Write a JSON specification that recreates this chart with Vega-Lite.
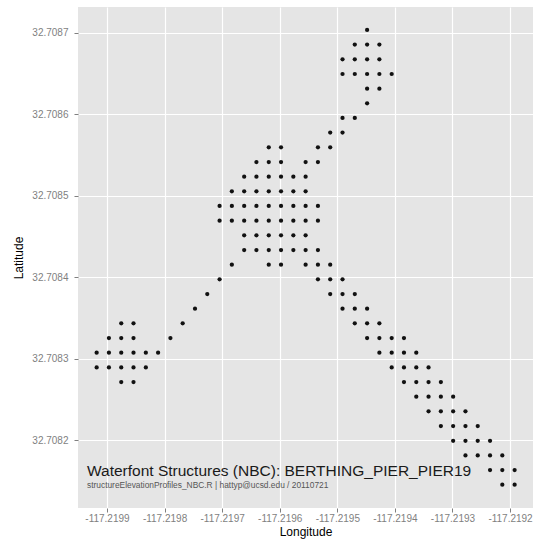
{
  "$schema": "https://vega.github.io/schema/vega-lite/v6.json",
  "width": 455,
  "height": 501,
  "autosize": {"type": "none"},
  "padding": {"left": 78, "top": 7, "right": 5, "bottom": 37},
  "background": "white",
  "config": {"view": {"fill": "#E5E5E5", "stroke": null}, "font": "Liberation Sans"},
  "datasets": {
    "pts": [
      {"lon": -117.2194482, "lat": 32.7087037},
      {"lon": -117.2194696, "lat": 32.7086857}, {"lon": -117.2194482, "lat": 32.7086857}, {"lon": -117.2194269, "lat": 32.7086857},
      {"lon": -117.2194909, "lat": 32.7086677}, {"lon": -117.2194696, "lat": 32.7086677}, {"lon": -117.2194482, "lat": 32.7086677}, {"lon": -117.2194269, "lat": 32.7086677},
      {"lon": -117.2194909, "lat": 32.7086496}, {"lon": -117.2194696, "lat": 32.7086496}, {"lon": -117.2194482, "lat": 32.7086496}, {"lon": -117.2194269, "lat": 32.7086496}, {"lon": -117.2194055, "lat": 32.7086496},
      {"lon": -117.2194482, "lat": 32.7086316}, {"lon": -117.2194269, "lat": 32.7086316},
      {"lon": -117.2194482, "lat": 32.7086136},
      {"lon": -117.2194909, "lat": 32.7085956}, {"lon": -117.2194696, "lat": 32.7085956},
      {"lon": -117.2195123, "lat": 32.7085776}, {"lon": -117.2194909, "lat": 32.7085776},
      {"lon": -117.2196190, "lat": 32.7085595}, {"lon": -117.2195977, "lat": 32.7085595}, {"lon": -117.2195336, "lat": 32.7085595}, {"lon": -117.2195123, "lat": 32.7085595},
      {"lon": -117.2196404, "lat": 32.7085415}, {"lon": -117.2196190, "lat": 32.7085415}, {"lon": -117.2195977, "lat": 32.7085415}, {"lon": -117.2195550, "lat": 32.7085415}, {"lon": -117.2195336, "lat": 32.7085415},
      {"lon": -117.2196617, "lat": 32.7085235}, {"lon": -117.2196404, "lat": 32.7085235}, {"lon": -117.2196190, "lat": 32.7085235}, {"lon": -117.2195977, "lat": 32.7085235}, {"lon": -117.2195763, "lat": 32.7085235}, {"lon": -117.2195550, "lat": 32.7085235},
      {"lon": -117.2196831, "lat": 32.7085055}, {"lon": -117.2196617, "lat": 32.7085055}, {"lon": -117.2196404, "lat": 32.7085055}, {"lon": -117.2196190, "lat": 32.7085055}, {"lon": -117.2195977, "lat": 32.7085055}, {"lon": -117.2195763, "lat": 32.7085055}, {"lon": -117.2195550, "lat": 32.7085055},
      {"lon": -117.2197044, "lat": 32.7084875}, {"lon": -117.2196831, "lat": 32.7084875}, {"lon": -117.2196617, "lat": 32.7084875}, {"lon": -117.2196404, "lat": 32.7084875}, {"lon": -117.2196190, "lat": 32.7084875}, {"lon": -117.2195977, "lat": 32.7084875}, {"lon": -117.2195763, "lat": 32.7084875}, {"lon": -117.2195550, "lat": 32.7084875}, {"lon": -117.2195336, "lat": 32.7084875},
      {"lon": -117.2197044, "lat": 32.7084694}, {"lon": -117.2196831, "lat": 32.7084694}, {"lon": -117.2196617, "lat": 32.7084694}, {"lon": -117.2196404, "lat": 32.7084694}, {"lon": -117.2196190, "lat": 32.7084694}, {"lon": -117.2195977, "lat": 32.7084694}, {"lon": -117.2195763, "lat": 32.7084694}, {"lon": -117.2195550, "lat": 32.7084694}, {"lon": -117.2195336, "lat": 32.7084694},
      {"lon": -117.2196617, "lat": 32.7084514}, {"lon": -117.2196404, "lat": 32.7084514}, {"lon": -117.2196190, "lat": 32.7084514}, {"lon": -117.2195977, "lat": 32.7084514}, {"lon": -117.2195763, "lat": 32.7084514}, {"lon": -117.2195550, "lat": 32.7084514},
      {"lon": -117.2196617, "lat": 32.7084334}, {"lon": -117.2196404, "lat": 32.7084334}, {"lon": -117.2196190, "lat": 32.7084334}, {"lon": -117.2195977, "lat": 32.7084334}, {"lon": -117.2195763, "lat": 32.7084334}, {"lon": -117.2195550, "lat": 32.7084334}, {"lon": -117.2195336, "lat": 32.7084334},
      {"lon": -117.2196831, "lat": 32.7084154}, {"lon": -117.2196190, "lat": 32.7084154}, {"lon": -117.2195977, "lat": 32.7084154}, {"lon": -117.2195550, "lat": 32.7084154}, {"lon": -117.2195336, "lat": 32.7084154}, {"lon": -117.2195123, "lat": 32.7084154},
      {"lon": -117.2197044, "lat": 32.7083974}, {"lon": -117.2195336, "lat": 32.7083974}, {"lon": -117.2195123, "lat": 32.7083974}, {"lon": -117.2194909, "lat": 32.7083974},
      {"lon": -117.2197258, "lat": 32.7083793}, {"lon": -117.2195123, "lat": 32.7083793}, {"lon": -117.2194909, "lat": 32.7083793}, {"lon": -117.2194696, "lat": 32.7083793},
      {"lon": -117.2197471, "lat": 32.7083613}, {"lon": -117.2194909, "lat": 32.7083613}, {"lon": -117.2194696, "lat": 32.7083613}, {"lon": -117.2194482, "lat": 32.7083613},
      {"lon": -117.2198752, "lat": 32.7083433}, {"lon": -117.2198539, "lat": 32.7083433}, {"lon": -117.2197685, "lat": 32.7083433}, {"lon": -117.2194696, "lat": 32.7083433}, {"lon": -117.2194482, "lat": 32.7083433}, {"lon": -117.2194269, "lat": 32.7083433},
      {"lon": -117.2198966, "lat": 32.7083253}, {"lon": -117.2198752, "lat": 32.7083253}, {"lon": -117.2198539, "lat": 32.7083253}, {"lon": -117.2197898, "lat": 32.7083253}, {"lon": -117.2194482, "lat": 32.7083253}, {"lon": -117.2194269, "lat": 32.7083253}, {"lon": -117.2194055, "lat": 32.7083253}, {"lon": -117.2193842, "lat": 32.7083253},
      {"lon": -117.2199179, "lat": 32.7083073}, {"lon": -117.2198966, "lat": 32.7083073}, {"lon": -117.2198752, "lat": 32.7083073}, {"lon": -117.2198539, "lat": 32.7083073}, {"lon": -117.2198325, "lat": 32.7083073}, {"lon": -117.2198112, "lat": 32.7083073}, {"lon": -117.2194269, "lat": 32.7083073}, {"lon": -117.2194055, "lat": 32.7083073}, {"lon": -117.2193842, "lat": 32.7083073}, {"lon": -117.2193628, "lat": 32.7083073},
      {"lon": -117.2199179, "lat": 32.7082892}, {"lon": -117.2198966, "lat": 32.7082892}, {"lon": -117.2198752, "lat": 32.7082892}, {"lon": -117.2198539, "lat": 32.7082892}, {"lon": -117.2198325, "lat": 32.7082892}, {"lon": -117.2194055, "lat": 32.7082892}, {"lon": -117.2193842, "lat": 32.7082892}, {"lon": -117.2193628, "lat": 32.7082892}, {"lon": -117.2193415, "lat": 32.7082892},
      {"lon": -117.2198752, "lat": 32.7082712}, {"lon": -117.2198539, "lat": 32.7082712}, {"lon": -117.2193842, "lat": 32.7082712}, {"lon": -117.2193628, "lat": 32.7082712}, {"lon": -117.2193415, "lat": 32.7082712}, {"lon": -117.2193201, "lat": 32.7082712},
      {"lon": -117.2193628, "lat": 32.7082532}, {"lon": -117.2193415, "lat": 32.7082532}, {"lon": -117.2193201, "lat": 32.7082532}, {"lon": -117.2192988, "lat": 32.7082532},
      {"lon": -117.2193415, "lat": 32.7082352}, {"lon": -117.2193201, "lat": 32.7082352}, {"lon": -117.2192988, "lat": 32.7082352}, {"lon": -117.2192774, "lat": 32.7082352},
      {"lon": -117.2193201, "lat": 32.7082172}, {"lon": -117.2192988, "lat": 32.7082172}, {"lon": -117.2192774, "lat": 32.7082172}, {"lon": -117.2192561, "lat": 32.7082172},
      {"lon": -117.2192988, "lat": 32.7081991}, {"lon": -117.2192774, "lat": 32.7081991}, {"lon": -117.2192561, "lat": 32.7081991}, {"lon": -117.2192347, "lat": 32.7081991},
      {"lon": -117.2192774, "lat": 32.7081811}, {"lon": -117.2192561, "lat": 32.7081811}, {"lon": -117.2192347, "lat": 32.7081811}, {"lon": -117.2192134, "lat": 32.7081811},
      {"lon": -117.2192347, "lat": 32.7081631}, {"lon": -117.2192134, "lat": 32.7081631}, {"lon": -117.2191920, "lat": 32.7081631},
      {"lon": -117.2192134, "lat": 32.7081451}, {"lon": -117.2191920, "lat": 32.7081451}
    ]
  },
  "layer": [
    {
      "data": {"name": "pts"},
      "mark": {"type": "point", "filled": true, "size": 18, "color": "#111111", "opacity": 1},
      "encoding": {
        "x": {
          "field": "lon", "type": "quantitative",
          "scale": {"domain": [-117.2199503, -117.2191601], "nice": false, "zero": false},
          "axis": {
            "values": [-117.2199, -117.2198, -117.2197, -117.2196, -117.2195, -117.2194, -117.2193, -117.2192],
            "labelExpr": "'-' + format(abs(datum.value), '.4f')",
            "title": "Longitude", "grid": true, "gridColor": "white", "gridWidth": 1.2,
            "domain": false, "tickColor": "#7F7F7F", "tickSize": 4, "tickWidth": 1,
            "labelColor": "#7F7F7F", "labelFontSize": 10, "labelPadding": 1, "labelOverlap": false, "labelFlush": false,
            "titleFontSize": 12, "titleFontWeight": "normal", "titleColor": "#000000", "titlePadding": 3
          }
        },
        "y": {
          "field": "lat", "type": "quantitative",
          "scale": {"domain": [32.7081165, 32.7087319], "nice": false, "zero": false},
          "axis": {
            "values": [32.7082, 32.7083, 32.7084, 32.7085, 32.7086, 32.7087],
            "format": ".4f",
            "title": "Latitude", "grid": true, "gridColor": "white", "gridWidth": 1.2,
            "domain": false, "tickColor": "#7F7F7F", "tickSize": 4, "tickWidth": 1,
            "labelColor": "#7F7F7F", "labelFontSize": 10, "labelPadding": 6, "labelOverlap": false, "labelFlush": false,
            "titleFontSize": 12, "titleFontWeight": "normal", "titleColor": "#000000", "titlePadding": 6
          }
        }
      }
    },
    {
      "data": {"values": [{"lon": -117.2199347, "lat": 32.7081558, "label": "Waterfont Structures (NBC): BERTHING_PIER_PIER19"}]},
      "mark": {"type": "text", "align": "left", "baseline": "alphabetic", "fontSize": 15.5, "color": "#1a1a1a"},
      "encoding": {
        "x": {"field": "lon", "type": "quantitative"},
        "y": {"field": "lat", "type": "quantitative"},
        "text": {"field": "label"}
      }
    },
    {
      "data": {"values": [{"lon": -117.2199347, "lat": 32.7081410, "label": "structureElevationProfiles_NBC.R | hattyp@ucsd.edu / 20110721"}]},
      "mark": {"type": "text", "align": "left", "baseline": "alphabetic", "fontSize": 8.4, "color": "#555555"},
      "encoding": {
        "x": {"field": "lon", "type": "quantitative"},
        "y": {"field": "lat", "type": "quantitative"},
        "text": {"field": "label"}
      }
    }
  ]
}
